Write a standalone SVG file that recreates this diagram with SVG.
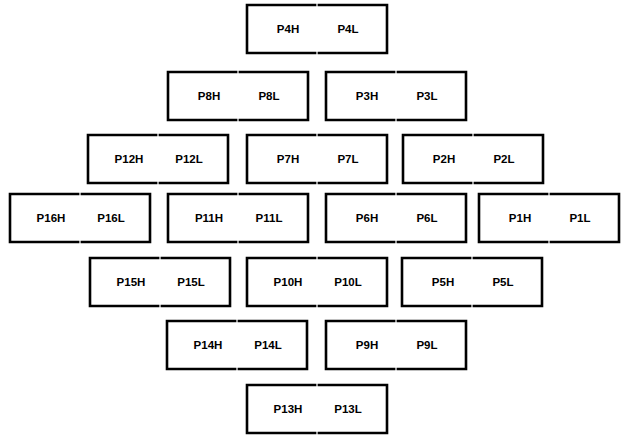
<svg xmlns="http://www.w3.org/2000/svg" width="621" height="440" viewBox="0 0 621 440">
<style>
.b{fill:none;stroke:#000;stroke-width:2.6;stroke-linejoin:miter}
.t{font-family:"Liberation Sans",Arial,sans-serif;font-weight:bold;font-size:11.5px;fill:#000;text-anchor:middle}
</style>
<defs>
<g id="box">
<rect x="0" y="0" width="140" height="48" fill="#fff"/>
<path class="b" d="M69.4,0 H0 V48 H69.4"/>
<path class="b" d="M70.6,0 H140 V48 H70.6"/>
</g>
</defs>
<rect width="621" height="440" fill="#fff"/>
<g id="P4" transform="translate(247,5)"><use href="#box"/><text class="t" x="41" y="28">P4H</text><text class="t" x="101" y="28">P4L</text></g>
<g id="P8" transform="translate(168,72)"><use href="#box"/><text class="t" x="41" y="28">P8H</text><text class="t" x="101" y="28">P8L</text></g>
<g id="P3" transform="translate(326,72)"><use href="#box"/><text class="t" x="41" y="28">P3H</text><text class="t" x="101" y="28">P3L</text></g>
<g id="P12" transform="translate(88,135)"><use href="#box"/><text class="t" x="41" y="28">P12H</text><text class="t" x="101" y="28">P12L</text></g>
<g id="P7" transform="translate(247,135)"><use href="#box"/><text class="t" x="41" y="28">P7H</text><text class="t" x="101" y="28">P7L</text></g>
<g id="P2" transform="translate(403,135)"><use href="#box"/><text class="t" x="41" y="28">P2H</text><text class="t" x="101" y="28">P2L</text></g>
<g id="P16" transform="translate(10,194)"><use href="#box"/><text class="t" x="41" y="28">P16H</text><text class="t" x="101" y="28">P16L</text></g>
<g id="P11" transform="translate(168,194)"><use href="#box"/><text class="t" x="41" y="28">P11H</text><text class="t" x="101" y="28">P11L</text></g>
<g id="P6" transform="translate(326,194)"><use href="#box"/><text class="t" x="41" y="28">P6H</text><text class="t" x="101" y="28">P6L</text></g>
<g id="P1" transform="translate(479,194)"><use href="#box"/><text class="t" x="41" y="28">P1H</text><text class="t" x="101" y="28">P1L</text></g>
<g id="P15" transform="translate(90,258)"><use href="#box"/><text class="t" x="41" y="28">P15H</text><text class="t" x="101" y="28">P15L</text></g>
<g id="P10" transform="translate(247,258)"><use href="#box"/><text class="t" x="41" y="28">P10H</text><text class="t" x="101" y="28">P10L</text></g>
<g id="P5" transform="translate(402,258)"><use href="#box"/><text class="t" x="41" y="28">P5H</text><text class="t" x="101" y="28">P5L</text></g>
<g id="P14" transform="translate(167,321)"><use href="#box"/><text class="t" x="41" y="28">P14H</text><text class="t" x="101" y="28">P14L</text></g>
<g id="P9" transform="translate(326,321)"><use href="#box"/><text class="t" x="41" y="28">P9H</text><text class="t" x="101" y="28">P9L</text></g>
<g id="P13" transform="translate(247,385)"><use href="#box"/><text class="t" x="41" y="28">P13H</text><text class="t" x="101" y="28">P13L</text></g>
<g id="connectors"></g>
</svg>
